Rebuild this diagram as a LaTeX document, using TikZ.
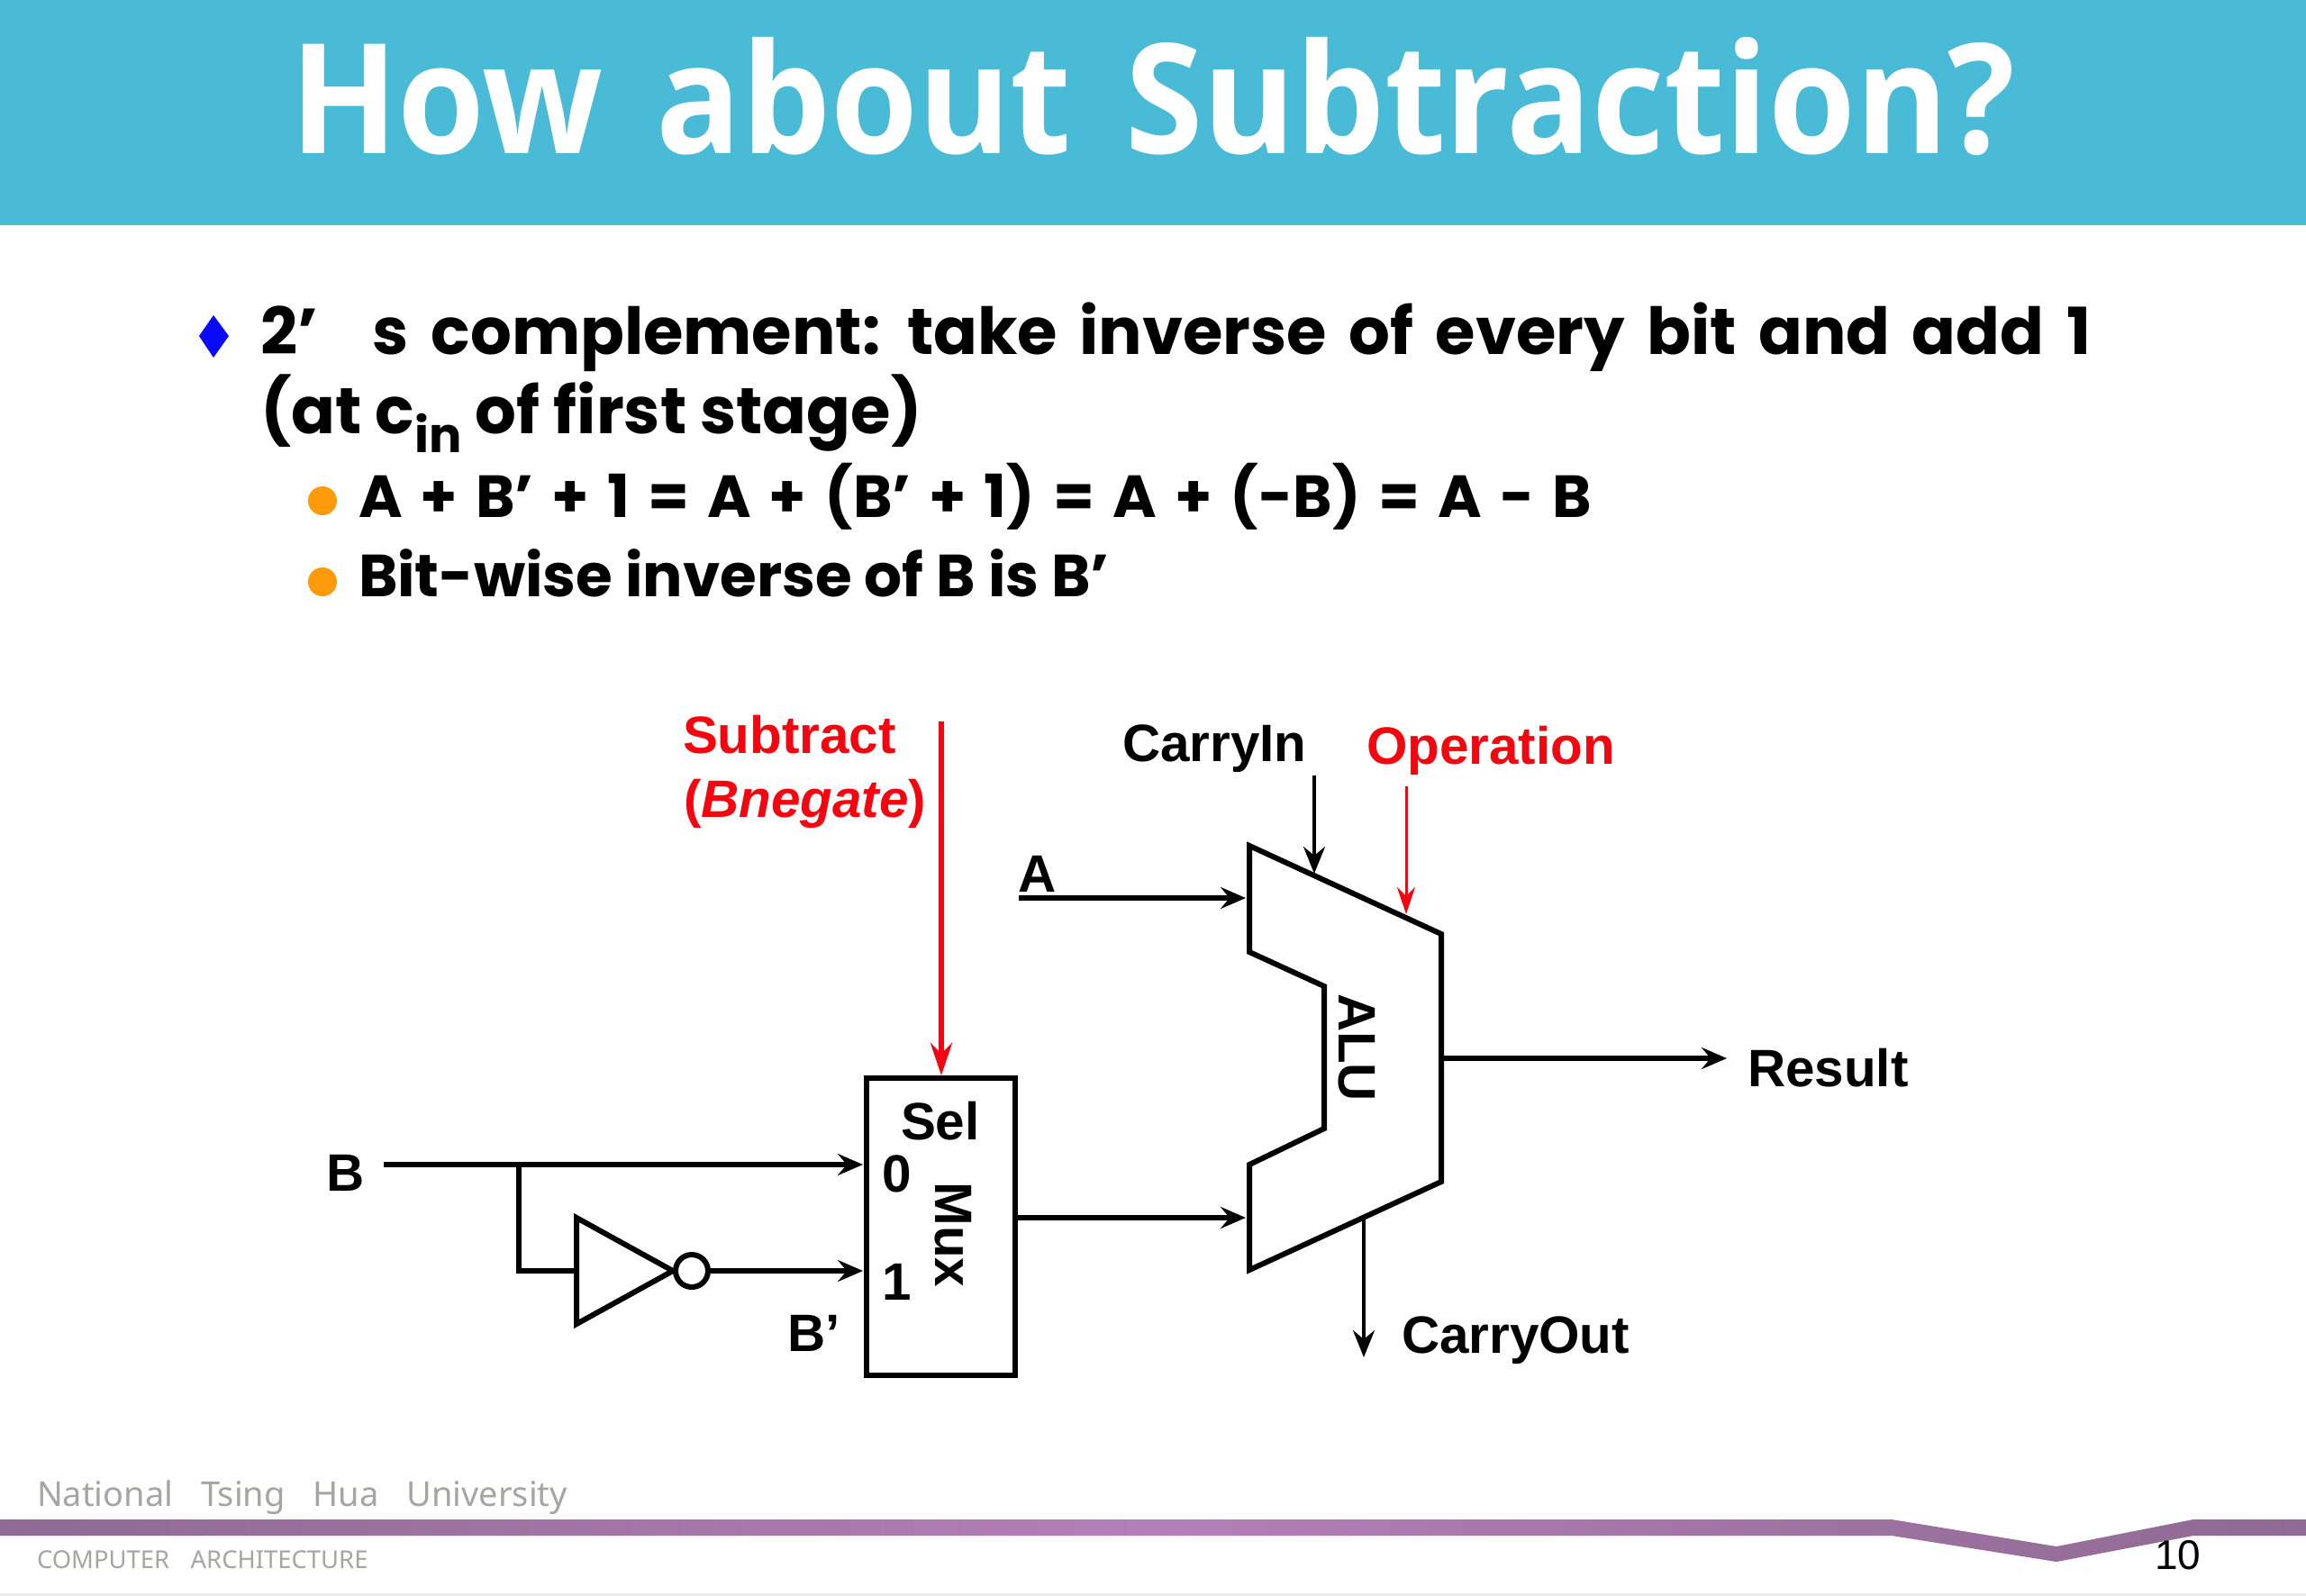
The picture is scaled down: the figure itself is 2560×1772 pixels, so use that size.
\documentclass[tikz,border=0pt]{standalone}
\usepackage{fontspec}
\usetikzlibrary{arrows.meta,calc}
\setmainfont{Liberation Sans}
\newfontfamily\bodyfont{Poppins}
\newfontfamily\titlefont{Open Sans}
\newfontfamily\footfont{Noto Sans}
\definecolor{barblue}{HTML}{4ABBD6}
\definecolor{bulletblue}{HTML}{0A0AF5}
\definecolor{bulletorange}{HTML}{FF9A0A}
\definecolor{sigred}{HTML}{F5050F}
\definecolor{footgray}{HTML}{A6A6A0}
\definecolor{bandedge}{HTML}{8F6A92}
\definecolor{bandmid}{HTML}{B37FB8}
\tikzset{
  txt/.style={inner sep=0pt,outer sep=0pt,anchor=base west,align=left},
  lab/.style={txt,font=\fontsize{29.2}{30}\selectfont\bfseries},
  rlab/.style={lab,text=sigred},
  rotlab/.style={inner sep=0pt,outer sep=0pt,anchor=center,rotate=-90,font=\fontsize{29.2}{30}\selectfont\bfseries},
  main/.style={txt,font=\fontsize{36}{36}\selectfont\bodyfont\bfseries},
  sub/.style={txt,font=\fontsize{33}{33}\selectfont\bodyfont\bfseries},
  wire/.style={draw=black,line width=2.9pt,-{Stealth[length=14pt,width=12pt,inset=5pt]}},
  thinwire/.style={draw=black,line width=2.3pt,-{Stealth[length=15pt,width=12pt,inset=5pt]}},
  redwire/.style={draw=sigred,line width=3pt,-{Stealth[length=18pt,width=12pt,inset=6pt]}},
  redthin/.style={draw=sigred,line width=1.5pt,-{Stealth[length=15pt,width=10pt,inset=5pt]}},
  plain/.style={draw=black,line width=2.9pt},
  shapeline/.style={draw=black,line width=3pt,line join=miter},
  orangedot/.style={circle,fill=bulletorange,inner sep=0pt,minimum size=16pt}
}
\begin{document}
\begin{tikzpicture}[x=0.5pt,y=-0.5pt]
\useasboundingbox (0,0) rectangle (2560,1772);
\fill[white] (0,0) rectangle (2560,1772);
% title bar
\fill[barblue] (0,0) rectangle (2560,250);
\node[inner sep=0pt,anchor=base,text=white,font=\fontsize{85}{85}\selectfont\titlefont\bfseries] (title) at (1280,170) {\scalebox{0.92}[1]{How\hspace{0.12em} about\hspace{0.12em} Subtraction?}};
% bullets
\fill[bulletblue] (221,373) -- (237,350) -- (254,373) -- (237,397) -- cycle;
\node[orangedot] (dot1) at (358,556) {};
\node[orangedot] (dot2) at (358,646) {};
\node[main] (l1) at (289,393) {\spaceskip=0.34em 2’\hspace{0.85em}s complement: take inverse of every bit and add 1};
\node[main] (l2) at (289,481) {(at c\raisebox{-0.3em}{\fontsize{27}{27}\selectfont in} of first stage)};
\node[sub] (l3) at (398,574) {\spaceskip=0.305em A + B’ + 1 = A + (B’ + 1) = A + (-B) = A - B};
\node[sub] (l4) at (398,662) {Bit-wise inverse of B is B’};
% mux box
\node[draw=black,line width=3pt,outer sep=0pt,minimum width=82.5pt,minimum height=165pt,inner sep=0pt,anchor=center] (mux) at (1044.5,1362) {};
% named points
\coordinate (subtop) at (1045,801);
\coordinate (muxtop) at (1045,1194);
\coordinate (bstart) at (426,1293);
\coordinate (mux0) at (958,1293);
\coordinate (bjoin) at (576,1293);
\coordinate (bturn) at (576,1411);
\coordinate (invin) at (640,1411);
\coordinate (mux1) at (958,1411);
\coordinate (astart) at (1131,997);
\coordinate (alua) at (1383,997);
\coordinate (muxout) at (1130,1352);
\coordinate (alub) at (1383,1352);
\coordinate (cin) at (1459,861);
\coordinate (cintip) at (1459,970);
\coordinate (optop) at (1561,873);
\coordinate (optip) at (1561,1015);
\coordinate (resfrom) at (1602,1175);
\coordinate (resto) at (1917,1175);
\coordinate (coutfrom) at (1514,1352);
\coordinate (coutto) at (1514,1507);
% inverter
\draw[shapeline] (640,1352) -- (747,1411) -- (640,1470) -- cycle;
\node[circle,draw=black,line width=3pt,fill=white,minimum size=18pt,inner sep=0pt] (bub) at (768,1411) {};
% ALU
\draw[shapeline] (1387,939) -- (1600,1037) -- (1600,1312) -- (1387,1410) -- (1387,1293) -- (1470,1253) -- (1470,1095) -- (1387,1057) -- cycle;
% connectors
\draw[redwire] (subtop) -- (muxtop);
\draw[wire] (bstart) -- (mux0);
\draw[plain] (bjoin) -- (bturn) -- (invin);
\draw[wire] (bub.east) -- (mux1);
\draw[wire] (astart) -- (alua);
\draw[wire] (muxout) -- (alub);
\draw[thinwire] (cin) -- (cintip);
\draw[redthin] (optop) -- (optip);
\draw[wire] (resfrom) -- (resto);
\draw[thinwire] (coutfrom) -- (coutto);
% labels
\node[rlab] (subt) at (758,836) {Subtract};
\node[rlab] (bneg) at (759,907) {(\textit{Bnegate})};
\node[lab] (cinl) at (1246,845) {CarryIn};
\node[rlab] (opl) at (1517,848) {Operation};
\node[lab] (al) at (1130,990) {A};
\node[lab] (bl) at (362,1322) {B};
\node[lab] (bpl) at (874,1500) {B’};
\node[lab] (sel) at (1000,1265) {Sel};
\node[lab] (zero) at (979,1323) {0};
\node[lab] (one) at (979,1443) {1};
\node[rotlab] (muxl) at (1058,1371) {Mux};
\node[rotlab] (alul) at (1506,1163) {ALU};
\node[lab] (res) at (1940,1206) {Result};
\node[lab] (coutl) at (1556,1502) {CarryOut};
% footer
\shade[left color=bandedge,right color=bandedge,middle color=bandmid]
  (0,1687) -- (2100,1687) -- (2283,1717) -- (2435,1687) -- (2560,1687) -- (2560,1705) -- (2435,1705) -- (2283,1734) -- (2100,1705) -- (0,1705) -- cycle;
\node[txt,text=footgray,font=\fontsize{19}{19}\selectfont\footfont] (nthu) at (41,1672) {National\hspace{0.55em} Tsing\hspace{0.55em} Hua\hspace{0.55em} University};
\node[txt,text=footgray,font=\fontsize{13.7}{14}\selectfont\footfont] (ca) at (41,1741) {COMPUTER\hspace{0.6em} ARCHITECTURE};
\node[txt,font=\fontsize{23}{23}\selectfont] (pg) at (2392,1742) {10};
\fill[black!8] (0,1769) rectangle (2560,1772);
\end{tikzpicture}
\end{document}
